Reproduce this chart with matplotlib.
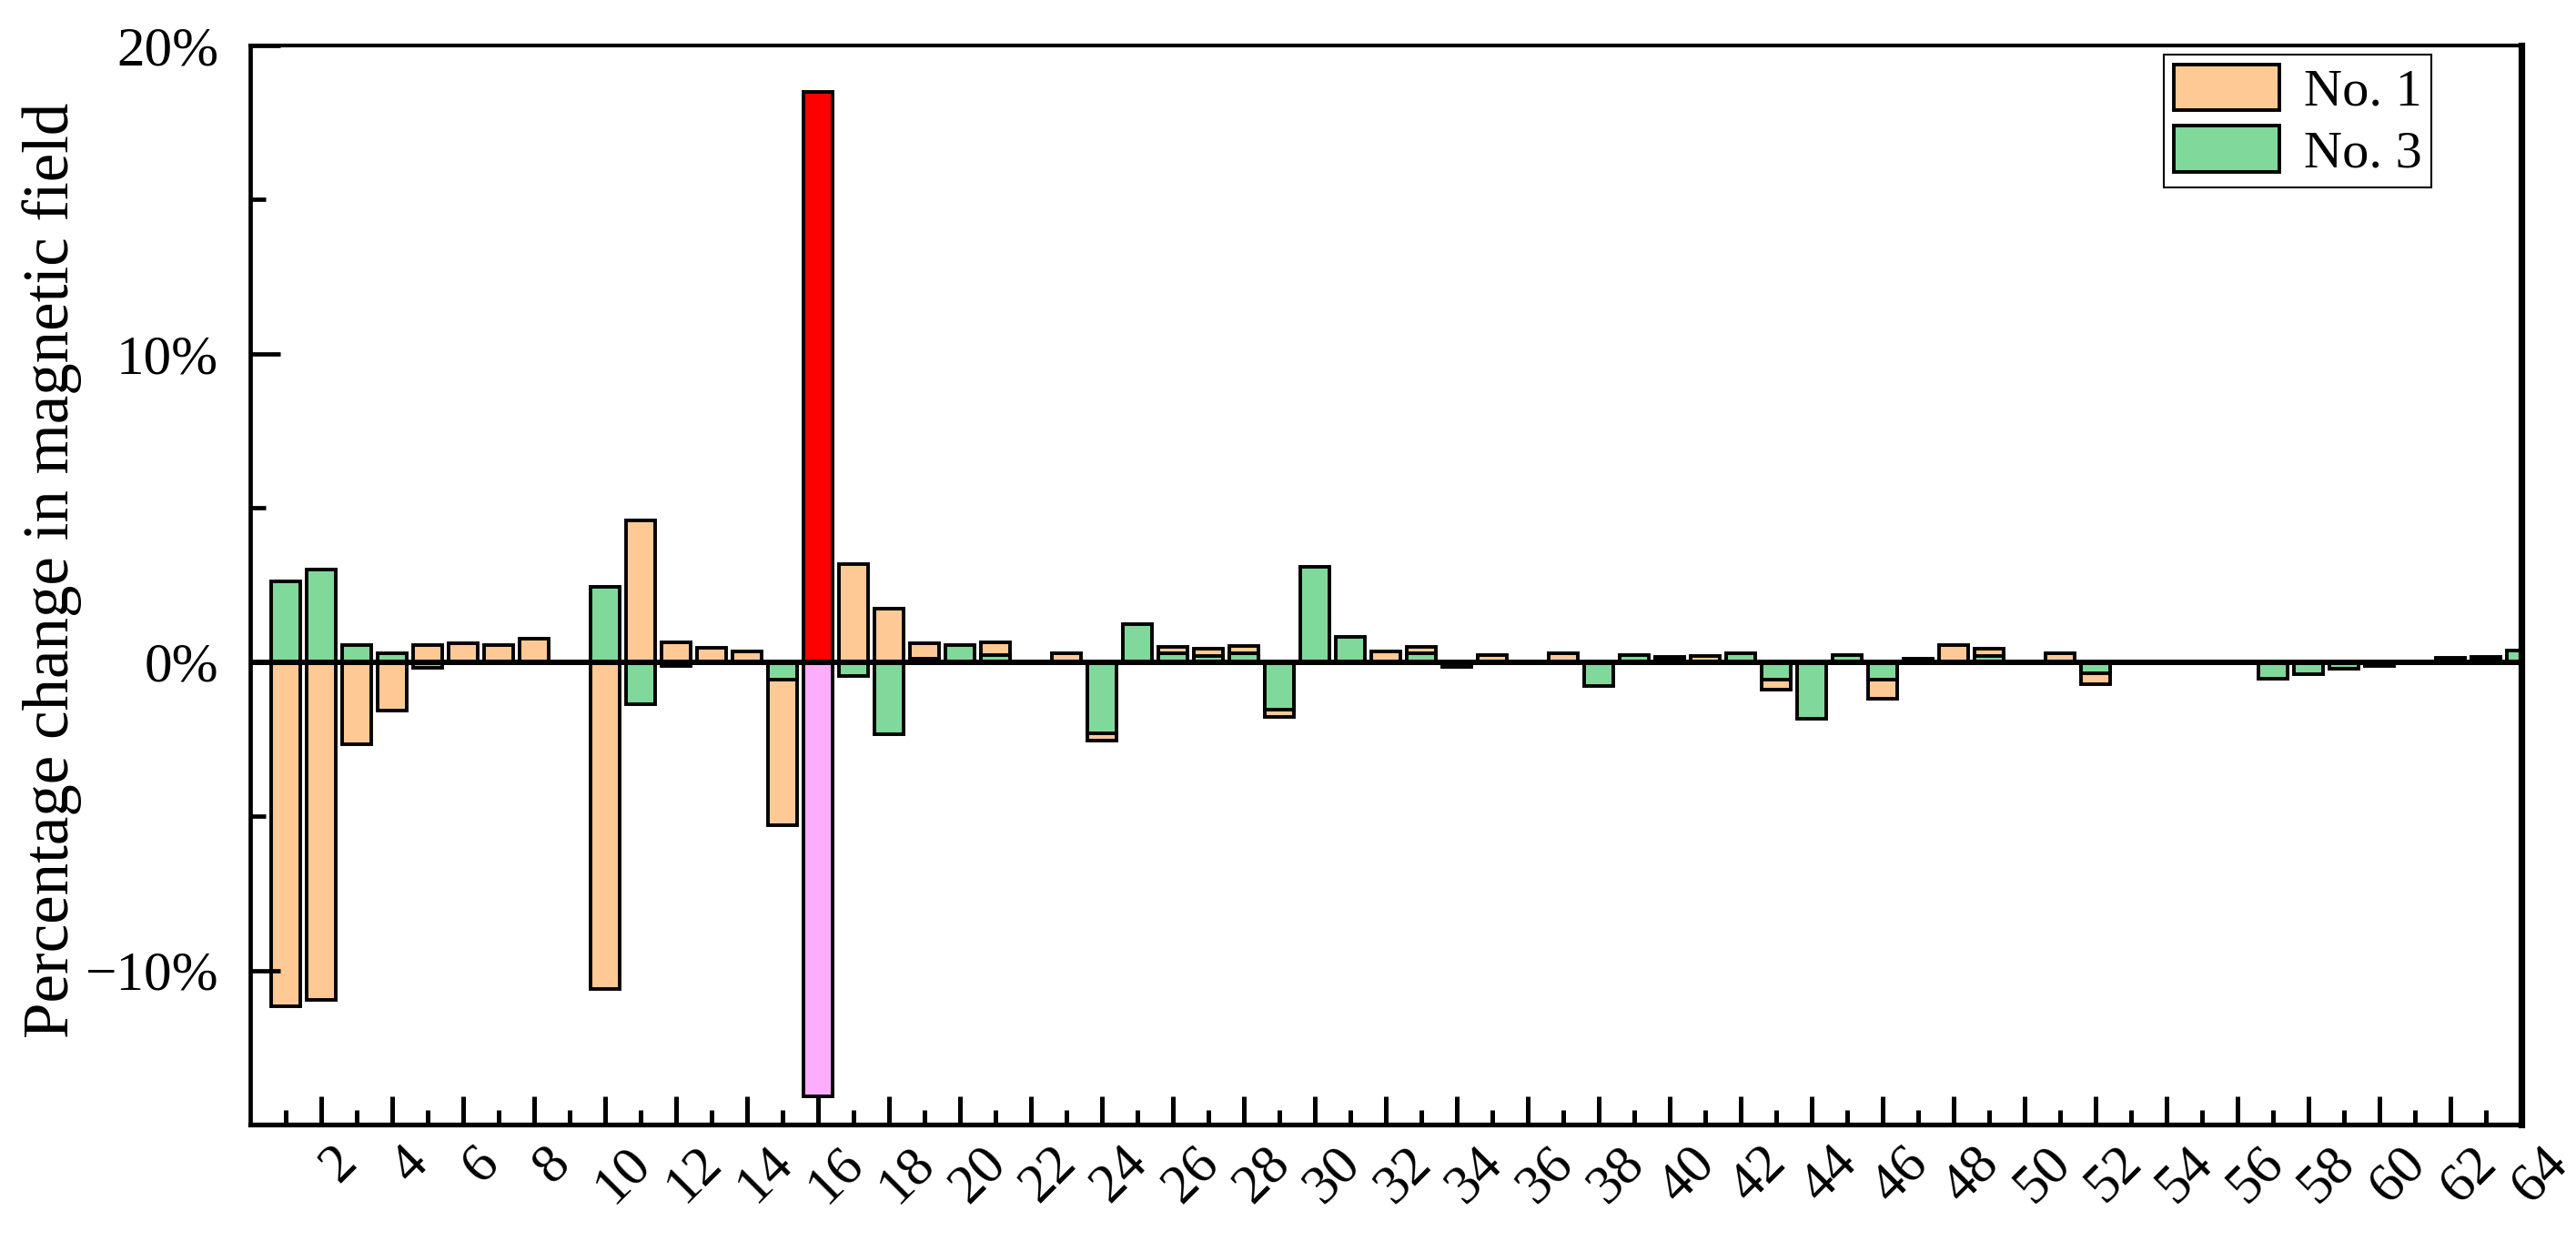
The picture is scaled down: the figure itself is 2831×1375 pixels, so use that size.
import matplotlib
matplotlib.use("Agg")
import matplotlib.pyplot as plt
import matplotlib.transforms as mtransforms
from matplotlib import font_manager as fm

# sensor positions 1..64
positions = list(range(1, 65))

# percentage change (%)
no1 = [-11.17, -10.95, -2.66, -1.56, 0.55, 0.62, 0.55, 0.76, 0.0, -10.6,
       4.6, 0.64, 0.47, 0.34, -5.3, 18.5, 3.19, 1.74, 0.62, 0.0,
       0.64, 0.0, 0.29, -2.54, 0.0, 0.49, 0.43, 0.51, -1.77, 0.0,
       0.0, 0.34, 0.49, -0.15, 0.22, 0.0, 0.29, 0.0, 0.0, 0.18,
       0.2, 0.0, -0.9, 0.0, 0.0, -1.18, 0.1, 0.56, 0.44, 0.0,
       0.3, -0.72, 0.0, 0.0, 0.0, 0.0, 0.0, 0.0, 0.0, -0.1,
       0.0, 0.15, 0.17, 0.0]
no3 = [2.63, 3.0, 0.55, 0.29, -0.18, 0.0, 0.0, 0.0, 0.0, 2.45,
       -1.38, -0.12, 0.0, 0.0, -0.57, -14.1, -0.45, -2.34, 0.12, 0.55,
       0.22, 0.0, 0.0, -2.3, 1.23, 0.29, 0.2, 0.28, -1.53, 3.08,
       0.83, 0.0, 0.29, -0.15, 0.0, 0.0, 0.0, -0.77, 0.22, 0.12,
       0.0, 0.28, -0.57, -1.85, 0.22, -0.57, 0.08, 0.0, 0.2, 0.0,
       0.0, -0.37, 0.0, 0.0, 0.0, 0.0, -0.53, -0.39, -0.2, -0.14,
       0.0, 0.1, 0.12, 0.38]
series_labels = ["No. 1", "No. 3"]
fault_pos = 16

c1, c3 = "#FFC995", "#80D99B"
c1_fault, c3_fault = "#FF0000", "#FDADFB"

# make sure the Times-like Liberation Serif is registered
serif = "DejaVu Serif"
for f in fm.findSystemFonts():
    if "LiberationSerif-Regular" in f:
        fm.fontManager.addfont(f)
        serif = fm.FontProperties(fname=f).get_name()
plt.rcParams["font.family"] = [serif, "DejaVu Serif"]

fig = plt.figure(figsize=(28.31, 13.75), dpi=100)
ax = fig.add_axes([0.0971, 0.1011, 0.8817, 0.8625])

col1 = [c1_fault if p == fault_pos else c1 for p in positions]
col3 = [c3_fault if p == fault_pos else c3 for p in positions]

w = 0.82
b1 = ax.bar(positions, no1, width=w, color=col1, edgecolor="black", linewidth=2.8,
            zorder=1, label=series_labels[0])
b3 = ax.bar(positions, no3, width=w, color=col3, edgecolor="black", linewidth=2.8,
            zorder=1.1, label=series_labels[1])
ax.axhline(0, color="black", linewidth=4.3, zorder=2)

ax.set_xlim(0, 64)
ax.set_ylim(-15, 20)
ax.set_axisbelow(False)

ax.set_xticks(range(2, 65, 2))
ax.set_xticks(range(1, 64, 2), minor=True)
ax.set_xticklabels([str(v) for v in range(2, 65, 2)], rotation=45, ha="center")
yt = [-10, 0, 10, 20]
ax.set_yticks(yt)
ax.set_yticks([-15, -5, 5, 15], minor=True)
ax.set_yticklabels([("\u2212%d%%" % -v) if v < 0 else "%d%%" % v for v in yt])

ax.tick_params(axis="y", which="major", direction="in", length=23.8, width=3.4,
               labelsize=44, pad=25)
ax.tick_params(axis="y", which="minor", direction="in", length=12, width=3.4)
ax.tick_params(axis="x", which="major", direction="in", length=22, width=3.6,
               labelsize=44, pad=10)
ax.tick_params(axis="x", which="minor", direction="in", length=11.5, width=3.6)

# shift rotated x labels slightly to the right
off = mtransforms.ScaledTranslation(0.2, 0, fig.dpi_scale_trans)
for lab in ax.get_xticklabels():
    lab.set_transform(lab.get_transform() + off)

ax.spines["left"].set_linewidth(3.4)
ax.spines["bottom"].set_linewidth(3.8)
ax.spines["top"].set_linewidth(3.0)
ax.spines["right"].set_linewidth(5.2)

ax.set_ylabel("Percentage change in magnetic field", fontsize=51)
ax.yaxis.set_label_coords(-0.074, 0.5135)

leg = ax.legend(handles=[b1, b3], loc="upper right", bbox_to_anchor=(0.9603, 0.9916),
                borderaxespad=0, fontsize=42, frameon=True, fancybox=False,
                edgecolor="black", framealpha=1, handlelength=2.0, handleheight=0.95,
                handletextpad=0.45, labelspacing=0.18, borderpad=0.18)
leg.get_frame().set_linewidth(1.5)
# legend patches keep the normal colours
leg.legend_handles[0].set_facecolor(c1)
leg.legend_handles[1].set_facecolor(c3)

fig.savefig("out.png", dpi=100)
